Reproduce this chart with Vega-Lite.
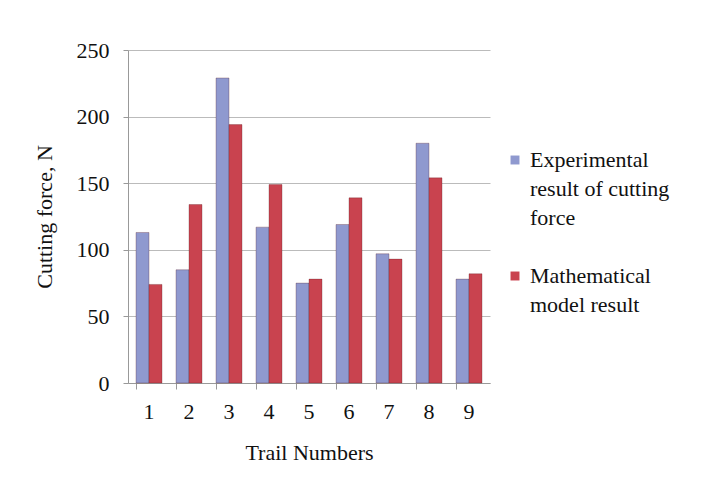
{
  "$schema": "https://vega.github.io/schema/vega-lite/v6.json",
  "width": 362,
  "height": 333,
  "autosize": "none",
  "padding": {"left": 128, "top": 50, "right": 226, "bottom": 101},
  "background": "white",
  "config": {
    "font": "Liberation Serif",
    "view": {"stroke": null},
    "legend": {"labelFont": "Liberation Serif"},
    "style": {"guide-label": {"font": "Liberation Serif"}},
    "text": {"font": "Liberation Serif"}
  },
  "data": {
    "values": [
      {"trial": "1", "series": "Experimental result of cutting force", "force": 113},
      {"trial": "1", "series": "Mathematical model result", "force": 74},
      {"trial": "2", "series": "Experimental result of cutting force", "force": 85},
      {"trial": "2", "series": "Mathematical model result", "force": 134},
      {"trial": "3", "series": "Experimental result of cutting force", "force": 229},
      {"trial": "3", "series": "Mathematical model result", "force": 194},
      {"trial": "4", "series": "Experimental result of cutting force", "force": 117},
      {"trial": "4", "series": "Mathematical model result", "force": 149},
      {"trial": "5", "series": "Experimental result of cutting force", "force": 75},
      {"trial": "5", "series": "Mathematical model result", "force": 78},
      {"trial": "6", "series": "Experimental result of cutting force", "force": 119},
      {"trial": "6", "series": "Mathematical model result", "force": 139},
      {"trial": "7", "series": "Experimental result of cutting force", "force": 97},
      {"trial": "7", "series": "Mathematical model result", "force": 93},
      {"trial": "8", "series": "Experimental result of cutting force", "force": 180},
      {"trial": "8", "series": "Mathematical model result", "force": 154},
      {"trial": "9", "series": "Experimental result of cutting force", "force": 78},
      {"trial": "9", "series": "Mathematical model result", "force": 82}
    ]
  },
  "mark": {"type": "bar", "stroke": "#5a1a22", "strokeWidth": 0.6, "strokeOpacity": 0.5},
  "encoding": {
    "x": {
      "field": "trial",
      "type": "nominal",
      "scale": {"paddingInner": 0.35, "paddingOuter": 0.2},
      "axis": {
        "title": "Trail Numbers",
        "titleFontSize": 22,
        "titleFontWeight": "normal",
        "titleColor": "#111",
        "titlePadding": 20,
        "labelAngle": 0,
        "labelFontSize": 22,
        "labelColor": "#111",
        "labelPadding": 12,
        "bandPosition": 0,
        "tickSize": 6,
        "tickColor": "#999",
        "domainColor": "#999"
      }
    },
    "xOffset": {"field": "series", "type": "nominal"},
    "y": {
      "field": "force",
      "type": "quantitative",
      "scale": {"domain": [0, 250]},
      "axis": {
        "title": "Cutting force, N",
        "titleFontSize": 22,
        "titleFontWeight": "normal",
        "titleColor": "#111",
        "titlePadding": 20,
        "values": [0, 50, 100, 150, 200, 250],
        "labelFontSize": 22,
        "labelColor": "#111",
        "labelPadding": 14,
        "tickSize": 5,
        "tickColor": "#999",
        "domainColor": "#999",
        "gridColor": "#bbbbbb"
      }
    },
    "color": {
      "field": "series",
      "type": "nominal",
      "scale": {
        "domain": ["Experimental result of cutting force", "result of cutting", "force", "gap", "Mathematical model result", "model result"],
        "range": ["#8f99cf", "transparent", "transparent", "transparent", "#c9434f", "transparent"]
      },
      "legend": {
        "title": null,
        "orient": "none",
        "legendX": 376,
        "legendY": 99,
        "symbolType": "square",
        "symbolSize": 80,
        "symbolStrokeWidth": 0,
        "labelFont": "Liberation Serif",
        "labelFontWeight": "normal",
        "labelFontSize": 22,
        "labelColor": "#111",
        "labelLimit": 300,
        "rowPadding": 7,
        "labelOffset": 4,
        "labelExpr": "datum.label == 'Experimental result of cutting force' ? 'Experimental' : datum.label == 'Mathematical model result' ? 'Mathematical' : datum.label == 'gap' ? '' : datum.label"
      }
    }
  }
}
